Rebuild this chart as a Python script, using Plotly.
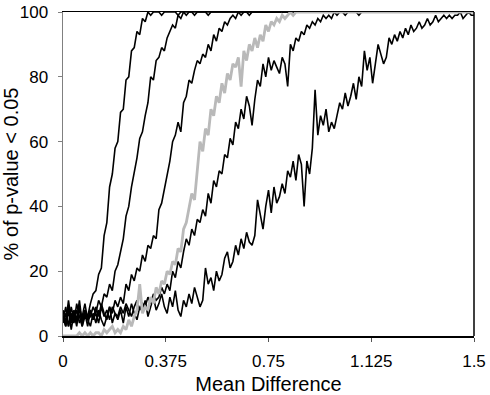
import plotly.graph_objects as go

# sampling grid of mean differences (step 0.01)
mean_diff = [i / 100 for i in range(151)]

curve_a = [
    8, 4, 11, 5, 7, 3, 9, 5, 8, 6,
    10, 13, 14, 19, 21, 31, 35, 46, 50, 58,
    60, 69, 70, 79, 80, 88, 89, 94, 93, 98,
    97, 100, 99, 100, 100, 100, 99, 100, 100, 100,
    100, 100, 99, 100, 100, 100, 100, 100, 100, 100,
    100, 100, 100, 100, 100, 100, 100, 100, 100, 100,
    100, 100, 100, 100, 100, 100, 100, 100, 100, 100,
    100, 100, 100, 100, 100, 100, 100, 100, 100, 100,
    100, 100, 100, 100, 100, 100, 100, 100, 100, 100,
    100, 100, 100, 100, 100, 100, 100, 100, 100, 100,
    100, 100, 100, 100, 100, 100, 100, 100, 100, 100,
    100, 100, 100, 100, 100, 100, 100, 100, 100, 100,
    100, 100, 100, 100, 100, 100, 100, 100, 100, 100,
    100, 100, 100, 100, 100, 100, 100, 100, 100, 100,
    100, 100, 100, 100, 100, 100, 100, 100, 100, 100,
    100,
]

curve_b = [
    5, 9, 3, 7, 4, 10, 6, 3, 8, 5,
    6, 9, 7, 11, 9, 13, 12, 16, 14, 20,
    22, 26, 30, 37, 40, 46, 50, 55, 61, 63,
    68, 72, 80, 79, 85, 86, 89, 88, 92, 94,
    96, 95, 99, 98, 100, 99, 100, 100, 99, 100,
    100, 100, 100, 99, 100, 100, 100, 100, 100, 100,
    100, 100, 100, 100, 100, 100, 100, 100, 100, 100,
    100, 100, 100, 100, 100, 100, 100, 100, 100, 100,
    100, 100, 100, 100, 100, 100, 100, 100, 100, 100,
    100, 100, 100, 100, 100, 100, 100, 100, 100, 100,
    100, 100, 100, 100, 100, 100, 100, 100, 100, 100,
    100, 100, 100, 100, 100, 100, 100, 100, 100, 100,
    100, 100, 100, 100, 100, 100, 100, 100, 100, 100,
    100, 100, 100, 100, 100, 100, 100, 100, 100, 100,
    100, 100, 100, 100, 100, 100, 100, 100, 100, 100,
    100,
]

curve_c = [
    6, 3, 9, 4, 8, 5, 11, 4, 7, 3,
    8, 5, 9, 6, 10, 7, 5, 9, 7, 11,
    9, 12, 10, 16, 14, 19, 17, 21, 20, 25,
    23, 28, 27, 31, 30, 39, 41, 45, 50, 54,
    60, 62, 66, 63, 72, 74, 79, 78, 82, 85,
    84, 87, 86, 90, 88, 93, 91, 95, 94, 97,
    96, 98, 99, 98, 100, 99, 100, 100, 99, 100,
    100, 100, 100, 100, 100, 100, 100, 100, 100, 100,
    100, 100, 100, 100, 100, 100, 100, 100, 100, 100,
    100, 100, 100, 100, 100, 100, 100, 100, 100, 100,
    100, 100, 100, 100, 100, 100, 100, 100, 100, 100,
    100, 100, 100, 100, 100, 100, 100, 100, 100, 100,
    100, 100, 100, 100, 100, 100, 100, 100, 100, 100,
    100, 100, 100, 100, 100, 100, 100, 100, 100, 100,
    100, 100, 100, 100, 100, 100, 100, 100, 100, 100,
    100,
]

curve_d = [
    4, 7, 3, 9, 5, 8, 4, 6, 10, 5,
    8, 5, 7, 4, 9, 6, 8, 5, 9, 7,
    6, 9, 7, 10, 8, 6, 9, 11, 8, 10,
    9, 12, 10, 13, 11, 12, 15, 13, 16, 14,
    20, 18, 23, 21, 26, 30, 28, 33, 31, 36,
    35, 39, 37, 44, 41, 48, 46, 51, 50, 56,
    55, 61, 59, 66, 64, 70, 67, 74, 71, 65,
    73, 79, 77, 84, 80, 86, 82, 85, 83, 81,
    86, 84, 77, 90, 88, 92, 91, 94, 93, 96,
    95, 97, 96, 98, 97, 99, 98, 99, 98, 100,
    99, 100, 100, 99, 100, 100, 100, 100, 99, 100,
    100, 100, 100, 100, 100, 100, 100, 100, 100, 100,
    100, 100, 100, 100, 100, 100, 100, 100, 100, 100,
    100, 100, 100, 100, 100, 100, 100, 100, 100, 100,
    100, 100, 100, 100, 100, 100, 100, 100, 100, 100,
    100,
]

curve_e = [
    6, 3, 8, 2, 7, 4, 9, 3, 6, 5,
    3, 7, 4, 8, 5, 3, 6, 9, 4, 7,
    5, 8, 4, 9, 6, 10, 7, 5, 9, 8,
    11, 6, 9, 12, 8, 10, 13, 9, 7, 12,
    9, 14, 8, 6, 11, 9, 13, 10, 15, 12,
    9, 11, 21, 16, 18, 14, 20, 17, 19, 24,
    26, 21, 23, 28, 25, 30, 27, 32, 29, 28,
    31, 42, 37, 33, 40, 45, 38, 46, 41, 43,
    47, 44, 51, 49, 54, 48, 56, 53, 40, 54,
    50, 58, 76, 62, 68, 65, 70, 63, 66, 64,
    68, 72, 70, 75, 71, 74, 78, 73, 80, 77,
    88, 82, 86, 78, 84, 90, 87, 84, 86, 92,
    90, 93, 91, 94, 92, 95, 93, 96, 94, 95,
    97, 95, 96, 98, 96, 97, 99, 97, 98, 99,
    98, 99, 98, 99, 99, 100, 98, 99, 100, 99,
    99,
]

curve_gray = [
    0, 0, 0, 0, 0, 0, 1, 0, 1, 0,
    1, 0, 1, 1, 0, 2, 1, 2, 3, 1,
    2, 1, 3, 2, 5, 3, 6, 8, 16, 7,
    9, 8, 12, 10, 15, 13, 17, 16, 20, 19,
    23, 22, 27, 26, 33, 35, 40, 44, 42, 52,
    60, 57, 64, 62, 70, 68, 74, 72, 78, 75,
    81, 79, 84, 83, 86, 77, 88, 85, 90, 88,
    92, 89, 93, 91, 96, 94, 97, 96, 98, 97,
    99, 98, 99, 100, 99, 100, 100, 100, 100, 100,
    100, 100, 100, 100, 100, 100, 100, 100, 100, 100,
    100, 100, 100, 100, 100, 100, 100, 100, 100, 100,
    100, 100, 100, 100, 100, 100, 100, 100, 100, 100,
    100, 100, 100, 100, 100, 100, 100, 100, 100, 100,
    100, 100, 100, 100, 100, 100, 100, 100, 100, 100,
    100, 100, 100, 100, 100, 100, 100, 100, 100, 100,
    100,
]

x_tick_vals = [0, 0.375, 0.75, 1.125, 1.5]
x_tick_text = ["0", "0.375", "0.75", "1.125", "1.5"]
y_tick_vals = [0, 20, 40, 60, 80, 100]

fig = go.Figure()
for ys in [curve_e, curve_d, curve_c, curve_b, curve_a]:
    fig.add_trace(go.Scatter(x=mean_diff, y=ys, mode="lines",
                             line=dict(color="black", width=1.6),
                             hoverinfo="skip"))
fig.add_trace(go.Scatter(x=mean_diff, y=curve_gray, mode="lines",
                         line=dict(color="#b9b9b9", width=2.8),
                         hoverinfo="skip"))

font_family = "Liberation Sans, Arial, sans-serif"
fig.update_layout(
    width=490, height=395,
    margin=dict(l=63, r=16, t=12, b=59),
    plot_bgcolor="white", paper_bgcolor="white",
    showlegend=False,
    font=dict(family=font_family, size=17, color="black"),
    xaxis=dict(
        range=[0, 1.5], tickvals=x_tick_vals, ticktext=x_tick_text,
        ticks="outside", ticklen=4, tickcolor="#555555", tickwidth=1,
        showline=True, linecolor="black", linewidth=1.5, mirror=True,
        showgrid=False, zeroline=False, automargin=False,
        title=dict(text="Mean Difference", standoff=8),
        ticklabelstandoff=5,
    ),
    yaxis=dict(
        range=[0, 100], tickvals=y_tick_vals,
        ticks="outside", ticklen=4, tickcolor="#808080", tickwidth=1,
        showline=True, linecolor="#808080", linewidth=1.5,
        showgrid=False, zeroline=False, automargin=False,
        title=dict(text="% of p-value < 0.05", standoff=4),
        ticklabelstandoff=6,
    ),
    shapes=[dict(type="line", xref="paper", yref="paper",
                 x0=1, x1=1, y0=0, y1=1,
                 line=dict(color="black", width=1.5))],
)

fig.write_html(
    "out.html",
    config={"displayModeBar": False, "staticPlot": True},
    post_script="document.body.style.margin='0';document.body.style.overflow='hidden';",
)
